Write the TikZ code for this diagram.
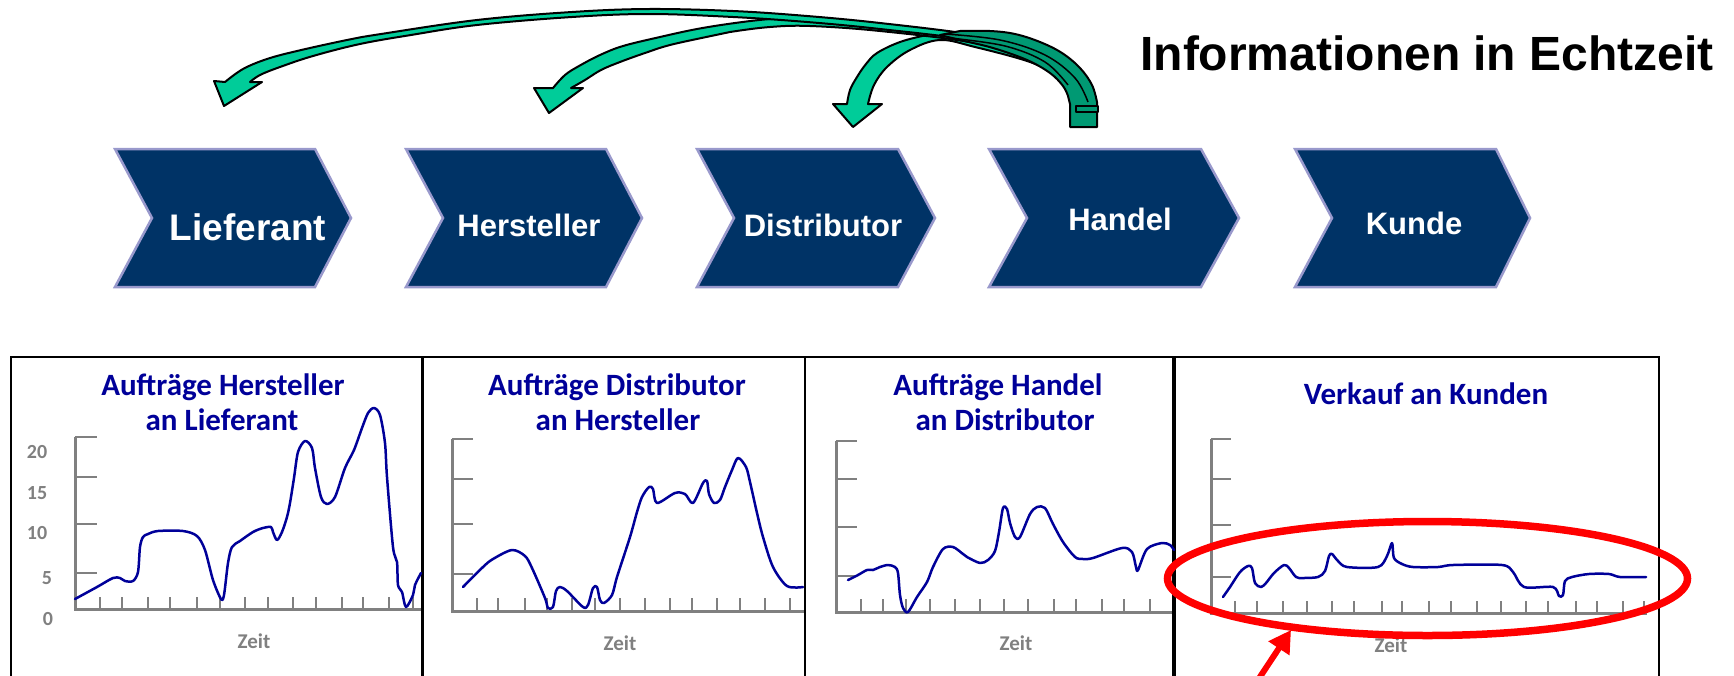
\documentclass[tikz,border=0pt]{standalone}
\usepackage{fontspec}
\setmainfont{Liberation Sans}
\newfontfamily\calfont{Carlito}
\usetikzlibrary{arrows.meta}
\definecolor{navy}{HTML}{003366}
\definecolor{chevborder}{HTML}{9999CC}
\definecolor{lgreen}{HTML}{00CC99}
\definecolor{dgreen}{HTML}{009973}
\definecolor{cblue}{HTML}{000099}
\definecolor{agray}{HTML}{808080}
\begin{document}
\begin{tikzpicture}[x=1pt,y=-1pt,
  chev/.style={fill=navy, draw=chevborder, line width=2.5pt, line join=miter},
  chevtext/.style={text=white, font=\bfseries\fontsize{31}{31}\selectfont, anchor=base, inner sep=0pt},
  garrow/.style={fill=lgreen, draw=black, line width=2pt, line join=round},
  darrow/.style={fill=dgreen, draw=black, line width=2pt, line join=round},
  box/.style={draw=black, line width=2.5pt},
  axis/.style={draw=agray, line width=3pt},
  tick/.style={draw=agray, line width=2.5pt},
  curve/.style={draw=cblue, line width=2.5pt, line join=round, line cap=round},
  ctitle/.style={text=cblue, font=\calfont\bfseries\fontsize{31}{31}\selectfont, anchor=base, inner sep=0pt},
  ylab/.style={text=agray, font=\calfont\bfseries\fontsize{20}{20}\selectfont, inner sep=0pt},
  zeit/.style={text=agray, font=\calfont\bfseries\fontsize{21}{21}\selectfont, inner sep=0pt},
]
\useasboundingbox (0,0) rectangle (1734,675);
\clip (0,0) rectangle (1734,675);

% ---------------- green curved arrows ----------------
% arrow to Distributor
\filldraw[garrow] (833,104) -- plot[smooth, tension=0.6] coordinates {(847,104) (850,90) (857,77) (866,64) (877,53) (900,42) (927,35) (943,33) (975,36) (1040,52) (1075,72)}
  -- plot[smooth, tension=0.6] coordinates {(1063,78) (1030,62) (975,47) (940,40) (910,50) (887,67) (874,85) (868,104)}
  -- (882,104) -- (853,127) -- cycle;
% arrow to Hersteller
\filldraw[garrow] (534,88) -- plot[smooth, tension=0.6] coordinates {(553,88) (565,75) (579,66) (600,55) (623,46) (660,37) (697,29) (735,23) (770,19) (807,17) (880,24) (975,36) (1040,52) (1075,72)}
  -- plot[smooth, tension=0.6] coordinates {(1063,78) (1030,60) (975,43) (880,31) (810,26) (770,27) (730,32) (711,36) (670,45) (645,53) (620,62) (601,70) (585,80) (571,88)}
  -- (583,88) -- (549,113) -- cycle;
% arrow to Lieferant
\filldraw[garrow] (214,81) -- plot[smooth, tension=0.6] coordinates {(225,82) (243,69) (267,59) (297,51) (347,40) (381,34) (477,20) (572,12) (649,9) (733,11) (807,16) (880,23) (975,35) (1040,50) (1075,70)}
  -- plot[smooth, tension=0.6] coordinates {(1063,76) (1030,58) (975,41) (880,29) (807,22) (733,17) (649,14) (572,17) (477,25) (411,35) (360,44) (313,56) (280,67) (260,75) (250,82)}
  -- (262,82) -- (224,106) -- cycle;
% common dark tail at Handel
\filldraw[darrow] (1070,127) -- (1070,104) -- plot[smooth, tension=0.6] coordinates {(1068,96) (1063,86) (1050,73) (1027,60) (993,48) (960,40) (940,35)}
  -- plot[smooth, tension=0.6] coordinates {(960,31) (990,31) (1015,34) (1040,42) (1062,53) (1080,68) (1092,85) (1097,102)}
  -- (1097,127) -- cycle;
\draw[black, line width=1.5pt] plot[smooth, tension=0.6] coordinates {(945,34) (1000,40) (1045,55) (1075,78) (1088,102)};
\draw[black, line width=1.5pt] plot[smooth, tension=0.6] coordinates {(950,38) (1005,46) (1045,62) (1068,85)};
\filldraw[darrow] (1076,106) rectangle (1098,112);

% ---------------- title ----------------
\node[anchor=base, inner sep=0pt, font=\bfseries\fontsize{48}{48}\selectfont] (title) at (1427,70) {Informationen in Echtzeit};

% ---------------- chevrons ----------------
\filldraw[chev] (115,149) -- (315,149) -- (351,218) -- (315,287) -- (115,287) -- (152,218) -- cycle;
\filldraw[chev] (406,149) -- (606,149) -- (642,218) -- (606,287) -- (406,287) -- (443,218) -- cycle;
\filldraw[chev] (697,149) -- (898,149) -- (935,218) -- (898,287) -- (697,287) -- (734,218) -- cycle;
\filldraw[chev] (989,149) -- (1201,149) -- (1239,218) -- (1201,287) -- (989,287) -- (1027,218) -- cycle;
\filldraw[chev] (1295,149) -- (1496,149) -- (1530,218) -- (1496,287) -- (1295,287) -- (1332,218) -- cycle;
\node[chevtext, font=\bfseries\fontsize{37}{37}\selectfont] (lief) at (248,240) {Lieferant};
\node[chevtext] (herst) at (529,236) {Hersteller};
\node[chevtext] (dist) at (823,236) {Distributor};
\node[chevtext] (hand) at (1120,230) {Handel};
\node[chevtext] (kunde) at (1414,234) {Kunde};

% ---------------- chart boxes ----------------
\draw[box] (11,690) -- (11,357) -- (422,357) -- (422,690);
\draw[box] (423,690) -- (423,357) -- (805,357) -- (805,690);
\draw[box] (805,690) -- (805,357) -- (1173,357) -- (1173,690);
\draw[box] (1175,690) -- (1175,357) -- (1659,357) -- (1659,690);

% chart 1
\node[ctitle] (t1a) at (223,395) {Aufträge Hersteller};
\node[ctitle] (t1b) at (222,430) {an Lieferant};
\draw[axis] (75,437) -- (75,609) -- (421,609);
\foreach \y in {437,477,524,573} \draw[tick] (75,\y) -- (97,\y);
\foreach \x in {100,122,148,170,197,220,245,268,293,316,342,363,389,413} \draw[tick] (\x,597) -- (\x,609);
\node[ylab] (y20) at (37,452) {20};
\node[ylab] (y15) at (37,493) {15};
\node[ylab] (y10) at (37,533) {10};
\node[ylab] (y5) at (47,578) {5};
\node[ylab] (y0) at (48,619) {0};
\node[zeit] (z1) at (254,641) {Zeit};
\draw[curve] plot[smooth, tension=0.5] coordinates {(75,599) (97,587) (113,578) (120,578) (125,581) (133,581) (138,572) (140,547) (143,537) (148,534) (158,531) (183,531) (197,536) (205,550) (213,580) (221,599) (224,595) (228,563) (232,547) (240,541) (253,532) (263,528) (271,527) (273,532) (277,540) (282,532) (287,517) (290,503) (294,478) (298,452) (305,441) (312,448) (315,468) (321,497) (327,504) (335,497) (345,468) (354,450) (362,428) (368,413) (374,408) (380,415) (385,443) (387,477) (393,547) (397,562) (398,585) (402,592) (406,607) (413,595) (415,585) (421,573)};

% chart 2
\node[ctitle] (t2a) at (617,395) {Aufträge Distributor};
\node[ctitle] (t2b) at (618,430) {an Hersteller};
\draw[axis] (452,439) -- (452,611) -- (804,611);
\foreach \y in {439,479,524,574} \draw[tick] (452,\y) -- (473,\y);
\foreach \x in {477,498,525,547,572,595,620,645,670,692,717,740,765,790} \draw[tick] (\x,598) -- (\x,611);
\node[zeit] (z2) at (620,643) {Zeit};
\draw[curve] plot[smooth, tension=0.5] coordinates {(463,587) (483,567) (493,559) (512,550) (525,556) (532,568) (545,598) (548,608) (553,607) (556,591) (560,587) (567,591) (583,607) (588,605) (593,588) (597,587) (600,600) (604,603) (612,595) (617,577) (630,537) (637,512) (642,497) (649,487) (653,489) (657,503) (675,493) (685,494) (693,503) (703,483) (707,481) (709,494) (714,503) (720,500) (725,487) (732,470) (738,458) (746,467) (750,482) (757,513) (763,537) (773,567) (787,586) (803,587)};

% chart 3
\node[ctitle] (t3a) at (998,395) {Aufträge Handel};
\node[ctitle] (t3b) at (1005,430) {an Distributor};
\draw[axis] (836,441) -- (836,612) -- (1172,612);
\foreach \y in {441,479,527,576} \draw[tick] (836,\y) -- (857,\y);
\foreach \x in {861,883,906,930,955,980,1004,1028,1054,1076,1102,1124,1150} \draw[tick] (\x,599) -- (\x,612);
\node[zeit] (z3) at (1016,643) {Zeit};
\draw[curve] plot[smooth, tension=0.5] coordinates {(848,580) (858,575) (867,570) (873,570) (880,567) (888,565) (895,567) (898,573) (900,595) (903,608) (908,612) (917,597) (927,582) (933,567) (943,549) (953,547) (963,554) (967,557) (980,563) (988,560) (995,551) (999,532) (1003,508) (1007,509) (1010,523) (1015,537) (1020,537) (1030,514) (1037,507) (1045,508) (1053,524) (1063,542) (1075,557) (1083,559) (1093,558) (1122,548) (1132,552) (1136,567) (1138,570) (1147,549) (1162,543) (1170,545) (1174,550)};

% chart 4
\node[ctitle] (t4) at (1426,404) {Verkauf an Kunden};
\draw[axis] (1211,439) -- (1211,613) -- (1647,613);
\foreach \y in {439,479,525,577} \draw[tick] (1211,\y) -- (1231,\y);
\foreach \x in {1235,1257,1283,1307,1332,1354,1382,1402,1429,1451,1477,1501,1526,1548,1576,1597,1623,1644} \draw[tick] (\x,601) -- (\x,613);
\node[zeit] (z4) at (1391,645) {Zeit};
\draw[curve] plot[smooth, tension=0.5] coordinates {(1223,597) (1230,587) (1240,572) (1248,566) (1252,568) (1255,583) (1261,587) (1266,583) (1274,573) (1284,565) (1289,568) (1296,577) (1303,578) (1318,577) (1325,571) (1329,556) (1332,554) (1338,561) (1347,567) (1378,567) (1387,556) (1392,543) (1394,558) (1402,564) (1413,567) (1438,567) (1453,565) (1502,565) (1513,572) (1524,587) (1553,587) (1559,596) (1563,595) (1565,581) (1572,577) (1589,574) (1609,574) (1620,577) (1646,577)};

% ---------------- red highlight ----------------
\draw[red, line width=7.5pt] (1427.5,578.5) ellipse [x radius=260pt, y radius=57pt];
\coordinate (rstart) at (1250,692);
\coordinate (rtip) at (1291,630);
\draw[red, line width=6pt, -{Triangle[length=22pt,width=24pt]}] (rstart) -- (rtip);
\end{tikzpicture}
\end{document}
